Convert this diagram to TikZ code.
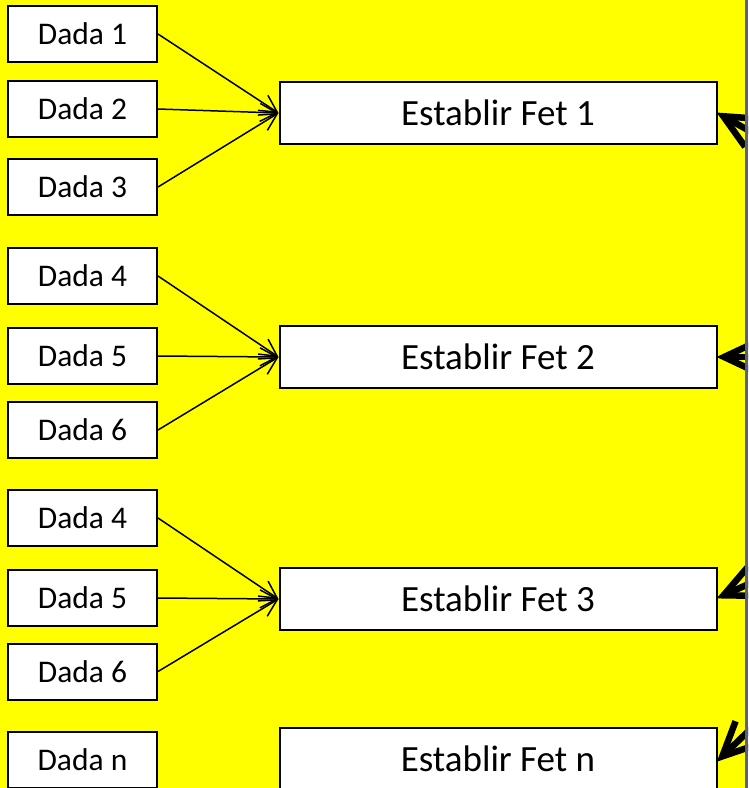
\documentclass[tikz,border=0pt]{standalone}
\usepackage{fontspec}
\setmainfont{Carlito}
\usetikzlibrary{arrows.meta}
\definecolor{bgyellow}{HTML}{FFFF00}
\definecolor{edgegray}{HTML}{5B6079}
\tikzset{
  dadabox/.style={draw=black, fill=white, line width=2pt, rectangle, inner sep=0pt,
    minimum width=149pt, minimum height=56pt, font=\fontsize{31.5}{36}\selectfont},
  fetbox/.style={draw=black, fill=white, line width=2pt, rectangle, inner sep=0pt,
    minimum width=437pt, minimum height=62pt, font=\fontsize{37}{42}\selectfont},
  thinarrow/.style={line width=1.5pt, -{Straight Barb[length=17pt,width=18pt]}},
  thickarrow/.style={line width=6.5pt, line cap=round, line join=round,
    -{Straight Barb[length=34pt,width=32pt]}, shorten >=-1pt}
}
\begin{document}
\begin{tikzpicture}[x=1pt,y=-1pt]
\useasboundingbox (0,0) rectangle (748,788);
\fill[bgyellow] (0,0) rectangle (748,788);
\clip (0,0) rectangle (748,788);

\node[dadabox] (d1) at (82.5,34) {Dada 1};
\node[dadabox] (d2) at (82.5,109) {Dada 2};
\node[dadabox] (d3) at (82.5,187) {Dada 3};
\node[dadabox] (d4) at (82.5,276) {Dada 4};
\node[dadabox] (d5) at (82.5,356) {Dada 5};
\node[dadabox] (d6) at (82.5,430) {Dada 6};
\node[dadabox] (d7) at (82.5,518) {Dada 4};
\node[dadabox] (d8) at (82.5,598) {Dada 5};
\node[dadabox] (d9) at (82.5,671.5) {Dada 6};
\node[dadabox] (dn) at (82.5,760) {Dada n};

\node[fetbox] (f1) at (498,113) {Establir Fet 1};
\node[fetbox] (f2) at (498,357) {Establir Fet 2};
\node[fetbox] (f3) at (498,599) {Establir Fet 3};
\node[fetbox] (fn) at (498,759) {Establir Fet n};

\draw[thinarrow] (d1.east) -- (f1.west);
\draw[thinarrow] (d2.east) -- (f1.west);
\draw[thinarrow] (d3.east) -- (f1.west);
\draw[thinarrow] (d4.east) -- (f2.west);
\draw[thinarrow] (d5.east) -- (f2.west);
\draw[thinarrow] (d6.east) -- (f2.west);
\draw[thinarrow] (d7.east) -- (f3.west);
\draw[thinarrow] (d8.east) -- (f3.west);
\draw[thinarrow] (d9.east) -- (f3.west);

\coordinate (s1) at (771,143);
\coordinate (s2) at (780,357);
\coordinate (s3) at (773,573);
\coordinate (sn) at (764,716);
\draw[thickarrow] (s1) -- (f1.east);
\draw[thickarrow] (s2) -- (f2.east);
\draw[thickarrow] (s3) -- ([yshift=1pt]f3.east);
\draw[thickarrow] (sn) -- ([yshift=-2pt]fn.east);

\coordinate (g1) at (746.5,0);
\coordinate (g2) at (746.5,788);
\draw[edgegray, line width=3pt] (g1) -- (g2);
\end{tikzpicture}
\end{document}
